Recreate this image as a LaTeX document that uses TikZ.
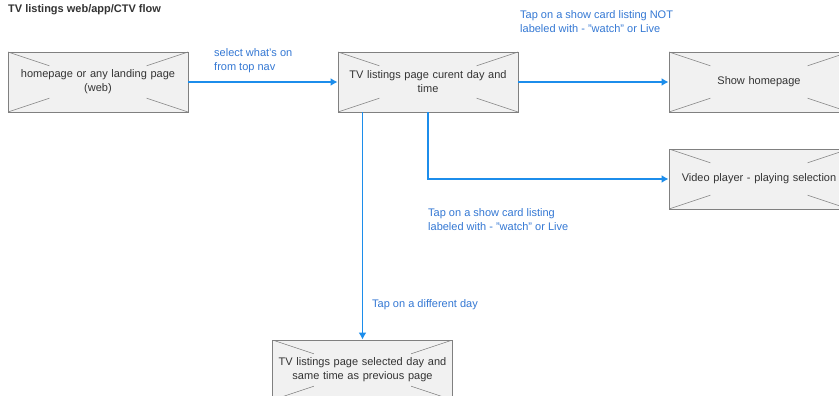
\documentclass[tikz,border=0pt]{standalone}
\usepackage{fontspec}
\setmainfont{Liberation Sans}
\usetikzlibrary{arrows.meta,calc}
\begin{document}
\begin{tikzpicture}[x=1pt,y=-1pt]
  \definecolor{flowblue}{HTML}{1C8DEB}
  \definecolor{labelblue}{HTML}{3478D4}
  \definecolor{boxfill}{HTML}{F1F1F1}
  \definecolor{boxline}{HTML}{808080}
  \definecolor{textgray}{HTML}{333333}
  \tikzset{
    mockup/.style={draw=boxline,fill=boxfill,line width=0.9pt,minimum width=180pt,minimum height=60pt,
      text width=172pt,align=center,inner sep=0pt,text=textgray,font=\fontsize{11}{14}\selectfont,
      path picture={
        \draw[boxline,line width=0.6pt] (path picture bounding box.north west) -- ($(path picture bounding box.north west)!0.23!(path picture bounding box.south east)$);
        \draw[boxline,line width=0.6pt] (path picture bounding box.south east) -- ($(path picture bounding box.south east)!0.23!(path picture bounding box.north west)$);
        \draw[boxline,line width=0.6pt] (path picture bounding box.north east) -- ($(path picture bounding box.north east)!0.23!(path picture bounding box.south west)$);
        \draw[boxline,line width=0.6pt] (path picture bounding box.south west) -- ($(path picture bounding box.south west)!0.23!(path picture bounding box.north east)$);
      }},
    flow/.style={draw=flowblue,line width=1.4pt,-{Latex[length=7pt,width=8pt]}},
    flowlabel/.style={anchor=west,align=left,inner sep=0pt,text=labelblue,font=\fontsize{11}{14}\selectfont}
  }
  \useasboundingbox (0,0) rectangle (839,396);
  \fill[white] (0,0) rectangle (839,396);
  % title
  \node [anchor=west,inner sep=0pt,text=textgray,font=\bfseries\fontsize{11}{14}\selectfont] (title) at (8,10) {TV listings web/app/CTV flow};
  % pages
  \node [mockup] (home) at (98,82) {homepage or any landing page\\(web)};
  \node [mockup] (cur) at (428,82) {TV listings page curent day and\\time};
  \node [mockup] (show) at (759,82) {Show homepage};
  \node [mockup] (video) at (759,179) {Video player - playing selection};
  \node [mockup] (sel) at (362.5,370) {TV listings page selected day and\\same time as previous page};
  % connectors
  \draw [flow] (home.east) -- (cur.west);
  \draw [flow] (cur.east) -- (show.west);
  \draw [flow] (cur.south) |- (video.west);
  \draw [flow] (sel.north |- cur.south) -- (sel.north);
  % labels
  \node [flowlabel] (selectlbl) at (214,61) {select what's on\\from top nav};
  \node [flowlabel] (notlbl) at (520,22) {Tap on a show card listing NOT\\labeled with - "watch" or Live};
  \node [flowlabel] (watchlbl) at (428,220) {Tap on a show card listing\\labeled with - "watch" or Live};
  \node [flowlabel] (daylbl) at (372,305) {Tap on a different day};
\end{tikzpicture}
\end{document}
